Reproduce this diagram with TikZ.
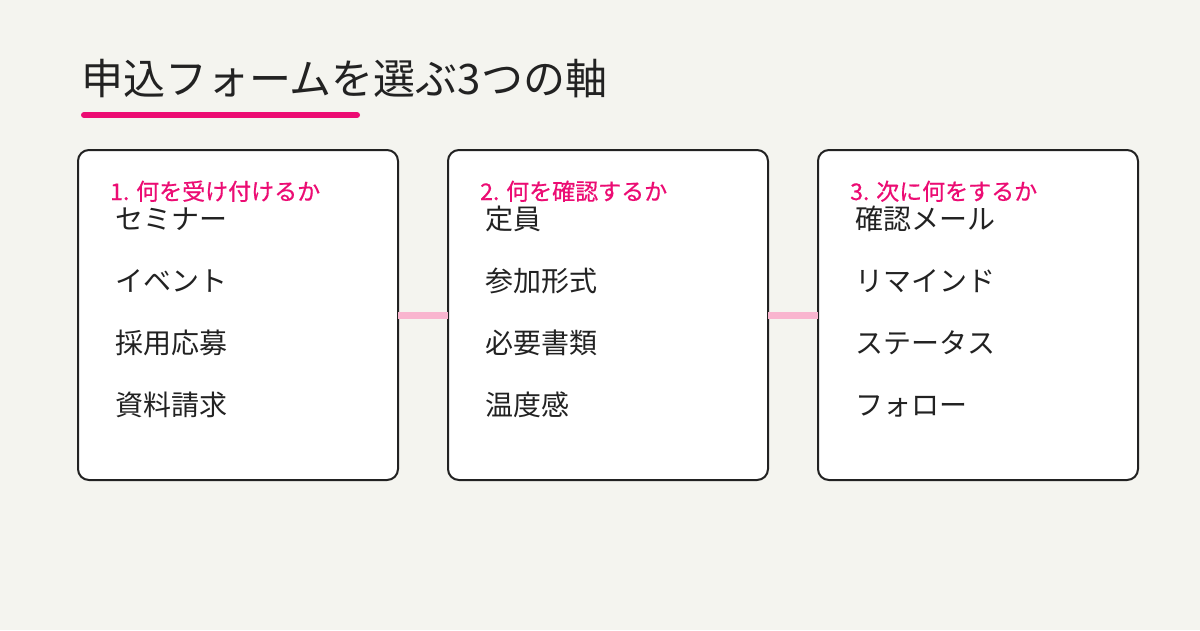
\documentclass[tikz,border=0pt]{standalone}
\usepackage{fontspec}
\setmainfont{Noto Sans CJK JP}
\newfontfamily\medfont[FakeBold=0.6]{Noto Sans CJK JP}
\definecolor{bg}{HTML}{F4F4EF}
\definecolor{pk}{HTML}{EC0C73}
\definecolor{lpk}{HTML}{F9B5CF}
\definecolor{ink}{HTML}{222222}
\begin{document}
\begin{tikzpicture}[x=1pt,y=-1pt,
  card/.style={draw=ink,line width=2pt,fill=white,rounded corners=11pt},
  head/.style={anchor=base west,text=pk,inner sep=0pt,font=\medfont\fontsize{23}{26}\selectfont},
  item/.style={anchor=base west,text=ink,inner sep=0pt,font=\fontsize{28}{32}\selectfont},
  link/.style={draw=lpk,line width=7pt}]
\fill[bg] (0,0) rectangle (1200,630);
\useasboundingbox (0,0) rectangle (1200,630);
\node[anchor=base west,text=ink,inner sep=0pt,font=\fontsize{42}{46}\selectfont] (title) at (81,94) {申込フォームを選ぶ3つの軸};
\draw[pk,line width=6pt,line cap=round] (84,115) coordinate (u1) -- (357,115) coordinate (u2);
\foreach \n/\x/\h/\a/\b/\c/\d in {
 1/78/{1. 何を受け付けるか}/セミナー/イベント/採用応募/資料請求,
 2/448/{2. 何を確認するか}/定員/参加形式/必要書類/温度感,
 3/818/{3. 次に何をするか}/確認メール/リマインド/ステータス/フォロー}{
  \path[card] (\x,150) rectangle (\x+320,480);
  \coordinate (L\n) at (\x,315);
  \coordinate (R\n) at (\x+320,315);
  \node[head] (h\n) at (\x+32,200) {\h};
  \node[item] (a\n) at (\x+37,229) {\a};
  \node[item] (b\n) at (\x+37,291) {\b};
  \node[item] (c\n) at (\x+37,353) {\c};
  \node[item] (d\n) at (\x+37,415) {\d};
}
\draw[link] (R1) -- (L2);
\draw[link] (R2) -- (L3);
\end{tikzpicture}
\end{document}
